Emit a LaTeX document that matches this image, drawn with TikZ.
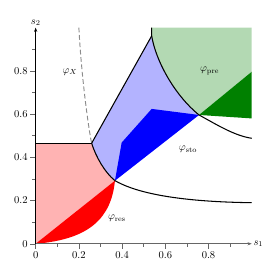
\documentclass[tikz,border=0pt]{standalone}
\usetikzlibrary{arrows.meta}
\definecolor{pinkfill}{RGB}{255,179,179}
\definecolor{lbluefill}{RGB}{179,179,255}
\definecolor{lgreenfill}{RGB}{179,217,179}
\definecolor{dgreenfill}{RGB}{0,128,0}
\begin{document}
\begin{tikzpicture}[x=205pt,y=205pt,
  bnd/.style={black, line width=1pt},
  dashcurve/.style={black!45, line width=0.9pt, dash pattern=on 4.5pt off 2.5pt},
  axisline/.style={line width=0.6pt},
  majortick/.style={black!60, line width=0.4pt},
  minortick/.style={black!60, line width=0.4pt},
  ticklabel/.style={inner sep=0pt, font=\normalsize},
  regionlabel/.style={inner sep=0pt}]
\useasboundingbox (-0.165,-0.140) rectangle (1.103,1.128);
% key points
\coordinate (O) at (0,0);
\coordinate (Y0) at (0,0.465);
\coordinate (A) at (0.259,0.465);
\coordinate (P) at (0.367,0.292);
\coordinate (Q) at (0.537,0.962);
\coordinate (Qtop) at (0.537,1.0);
\coordinate (R) at (0.756,0.596);
\coordinate (E1) at (1.0,0.19);
\coordinate (E2) at (1.0,0.488);
\coordinate (G1) at (1.0,1.0);
\coordinate (G2) at (1.0,0.796);
\coordinate (G3) at (1.0,0.58);
\coordinate (B1) at (0.398,0.468);
\coordinate (B2) at (0.537,0.624);
\coordinate (D0) at (0.2,1.0);
% fills
\fill[pinkfill] (O) -- (Y0) -- (A) .. controls (0.28,0.40) and (0.32,0.33) .. (P) -- cycle;
\fill[red] (O) -- (P) .. controls (0.35,0.12) and (0.25,0.02) .. (O) -- cycle;
\fill[lbluefill] (A) -- (Q) .. controls (0.555,0.85) and (0.64,0.69) .. (R) -- (P)
  .. controls (0.32,0.33) and (0.28,0.40) .. (A) -- cycle;
\fill[blue] (P) -- (B1) -- (B2) -- (R) -- cycle;
\fill[lgreenfill] (Qtop) -- (G1) -- (G2) -- (R) .. controls (0.64,0.69) and (0.555,0.85) .. (Q) -- cycle;
\fill[dgreenfill] (R) -- (G2) -- (G3) -- cycle;
% axes ticks
\foreach \t in {0,0.2,0.4,0.6,0.8} {
  \draw[majortick] (\t,0) -- ++(0,-5pt);
  \draw[majortick] (0,\t) -- ++(-5pt,0);
}
\foreach \t in {0.1,0.3,0.5,0.7,0.9} {
  \draw[minortick] (\t,0) -- ++(0,-3pt);
  \draw[minortick] (0,\t) -- ++(-3pt,0);
}
\foreach \t/\n in {0/a,0.2/b,0.4/c,0.6/d,0.8/e} {
  \node[ticklabel, anchor=base] (xl\n) at ([yshift=-14pt]\t,0) {$\t$};
  \node[ticklabel, anchor=east] (yl\n) at ([xshift=-7.5pt]0,\t) {$\t$};
}
\coordinate (XE) at (1.0,0);
\coordinate (YE) at (0,1.0);
\draw[axisline, black!60, -{Stealth[length=4pt,width=3pt]}] (O) -- (XE);
\draw[axisline, black, -{Stealth[length=4pt,width=3pt]}] (O) -- (YE);
\node[anchor=west, inner sep=1.5pt] (s1) at (XE) {$s_1$};
\node[anchor=south, inner sep=1.5pt] (s2) at (YE) {$s_2$};
% boundaries
\draw[dashcurve] (D0) .. controls (0.21,0.8) and (0.24,0.56) .. (A);
\draw[bnd] (Y0) -- (A);
\draw[bnd] (A) .. controls (0.28,0.40) and (0.32,0.33) .. (P)
  .. controls (0.44,0.25) and (0.6,0.195) .. (E1);
\draw[bnd] (A) -- (Q);
\draw[bnd] (Qtop) -- (Q) .. controls (0.555,0.85) and (0.64,0.69) .. (R)
  .. controls (0.84,0.55) and (0.92,0.50) .. (E2);
% labels
\node[regionlabel] (lx) at (0.159,0.795) {$\varphi_X$};
\node[regionlabel] (lpre) at (0.805,0.80) {$\varphi_{\mathrm{pre}}$};
\node[regionlabel] (lsto) at (0.705,0.436) {$\varphi_{\mathrm{sto}}$};
\node[regionlabel] (lres) at (0.376,0.116) {$\varphi_{\mathrm{res}}$};
\end{tikzpicture}
\end{document}
